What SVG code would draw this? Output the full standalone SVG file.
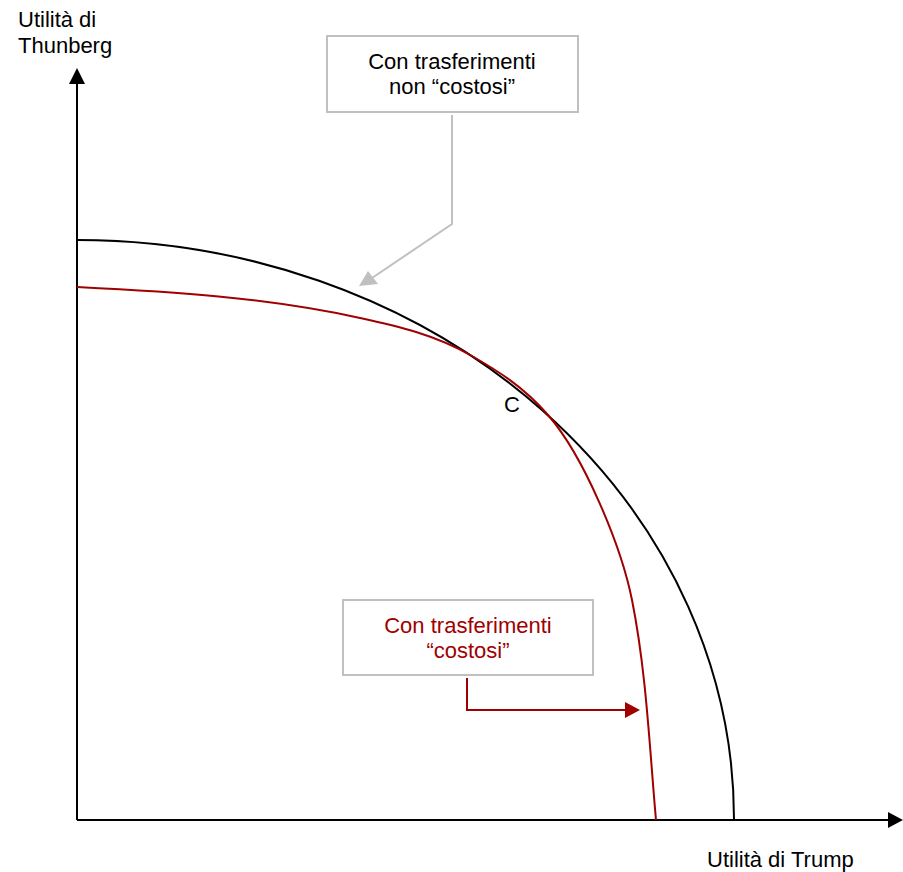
<svg xmlns="http://www.w3.org/2000/svg" width="903" height="872" viewBox="0 0 903 872">
<style>
text{font-family:"Liberation Sans",Arial,sans-serif;font-size:22px;fill:#000}
.box{fill:#fff;stroke:#c0c0c0;stroke-width:2}
.red{fill:#a00000}
.axis{stroke:#000;stroke-width:2;fill:none}
</style>
<rect width="903" height="872" fill="#fff"/>
<g id="axes">
<path class="axis" d="M77,820V84"/>
<path d="M69,84L77,68L85,84z" fill="#000"/>
<path class="axis" d="M77,820H888"/>
<path d="M888,812L903,820L888,828z" fill="#000"/>
</g>
<g id="curves" fill="none" stroke-width="2">
<path id="black-curve" d="M77,240A657,579 0 0 1 734,820" stroke="#000"/>
<path id="red-curve" stroke="#a00000" d="M77,287C171.3,291.7 265.7,297.3 360,318C397.3,326.2 434.7,334.4 472,356C497.3,370.7 522.7,385.9 548,415C584.1,456.5 621.2,546 632,600C646.3,671.6 649.5,747.3 656,820"/>
</g>
<g id="labels">
<text x="18" y="27">Utilità di</text>
<text x="18" y="53">Thunberg</text>
<text x="707" y="867">Utilità di Trump</text>
<text x="504" y="412">C</text>
</g>
<g id="box-noncostosi">
<rect class="box" x="327" y="36" width="251" height="76"/>
<text x="452" y="69" text-anchor="middle">Con trasferimenti</text>
<text x="452" y="94" text-anchor="middle">non “costosi”</text>
</g>
<g id="box-costosi">
<rect class="box" x="343" y="600" width="250" height="75"/>
<text class="red" x="468" y="633" text-anchor="middle">Con trasferimenti</text>
<text class="red" x="468" y="658" text-anchor="middle">“costosi”</text>
</g>
<g id="connectors" fill="none" stroke-width="2">
<path d="M452,115V224L372,278" stroke="#c0c0c0"/>
<path d="M359,286L368,271L378,284z" fill="#c0c0c0" stroke="none"/>
<path d="M467,678V710H626" stroke="#a00000"/>
<path d="M625,702L640,710L625,718z" fill="#a00000" stroke="none"/>
</g>
</svg>
